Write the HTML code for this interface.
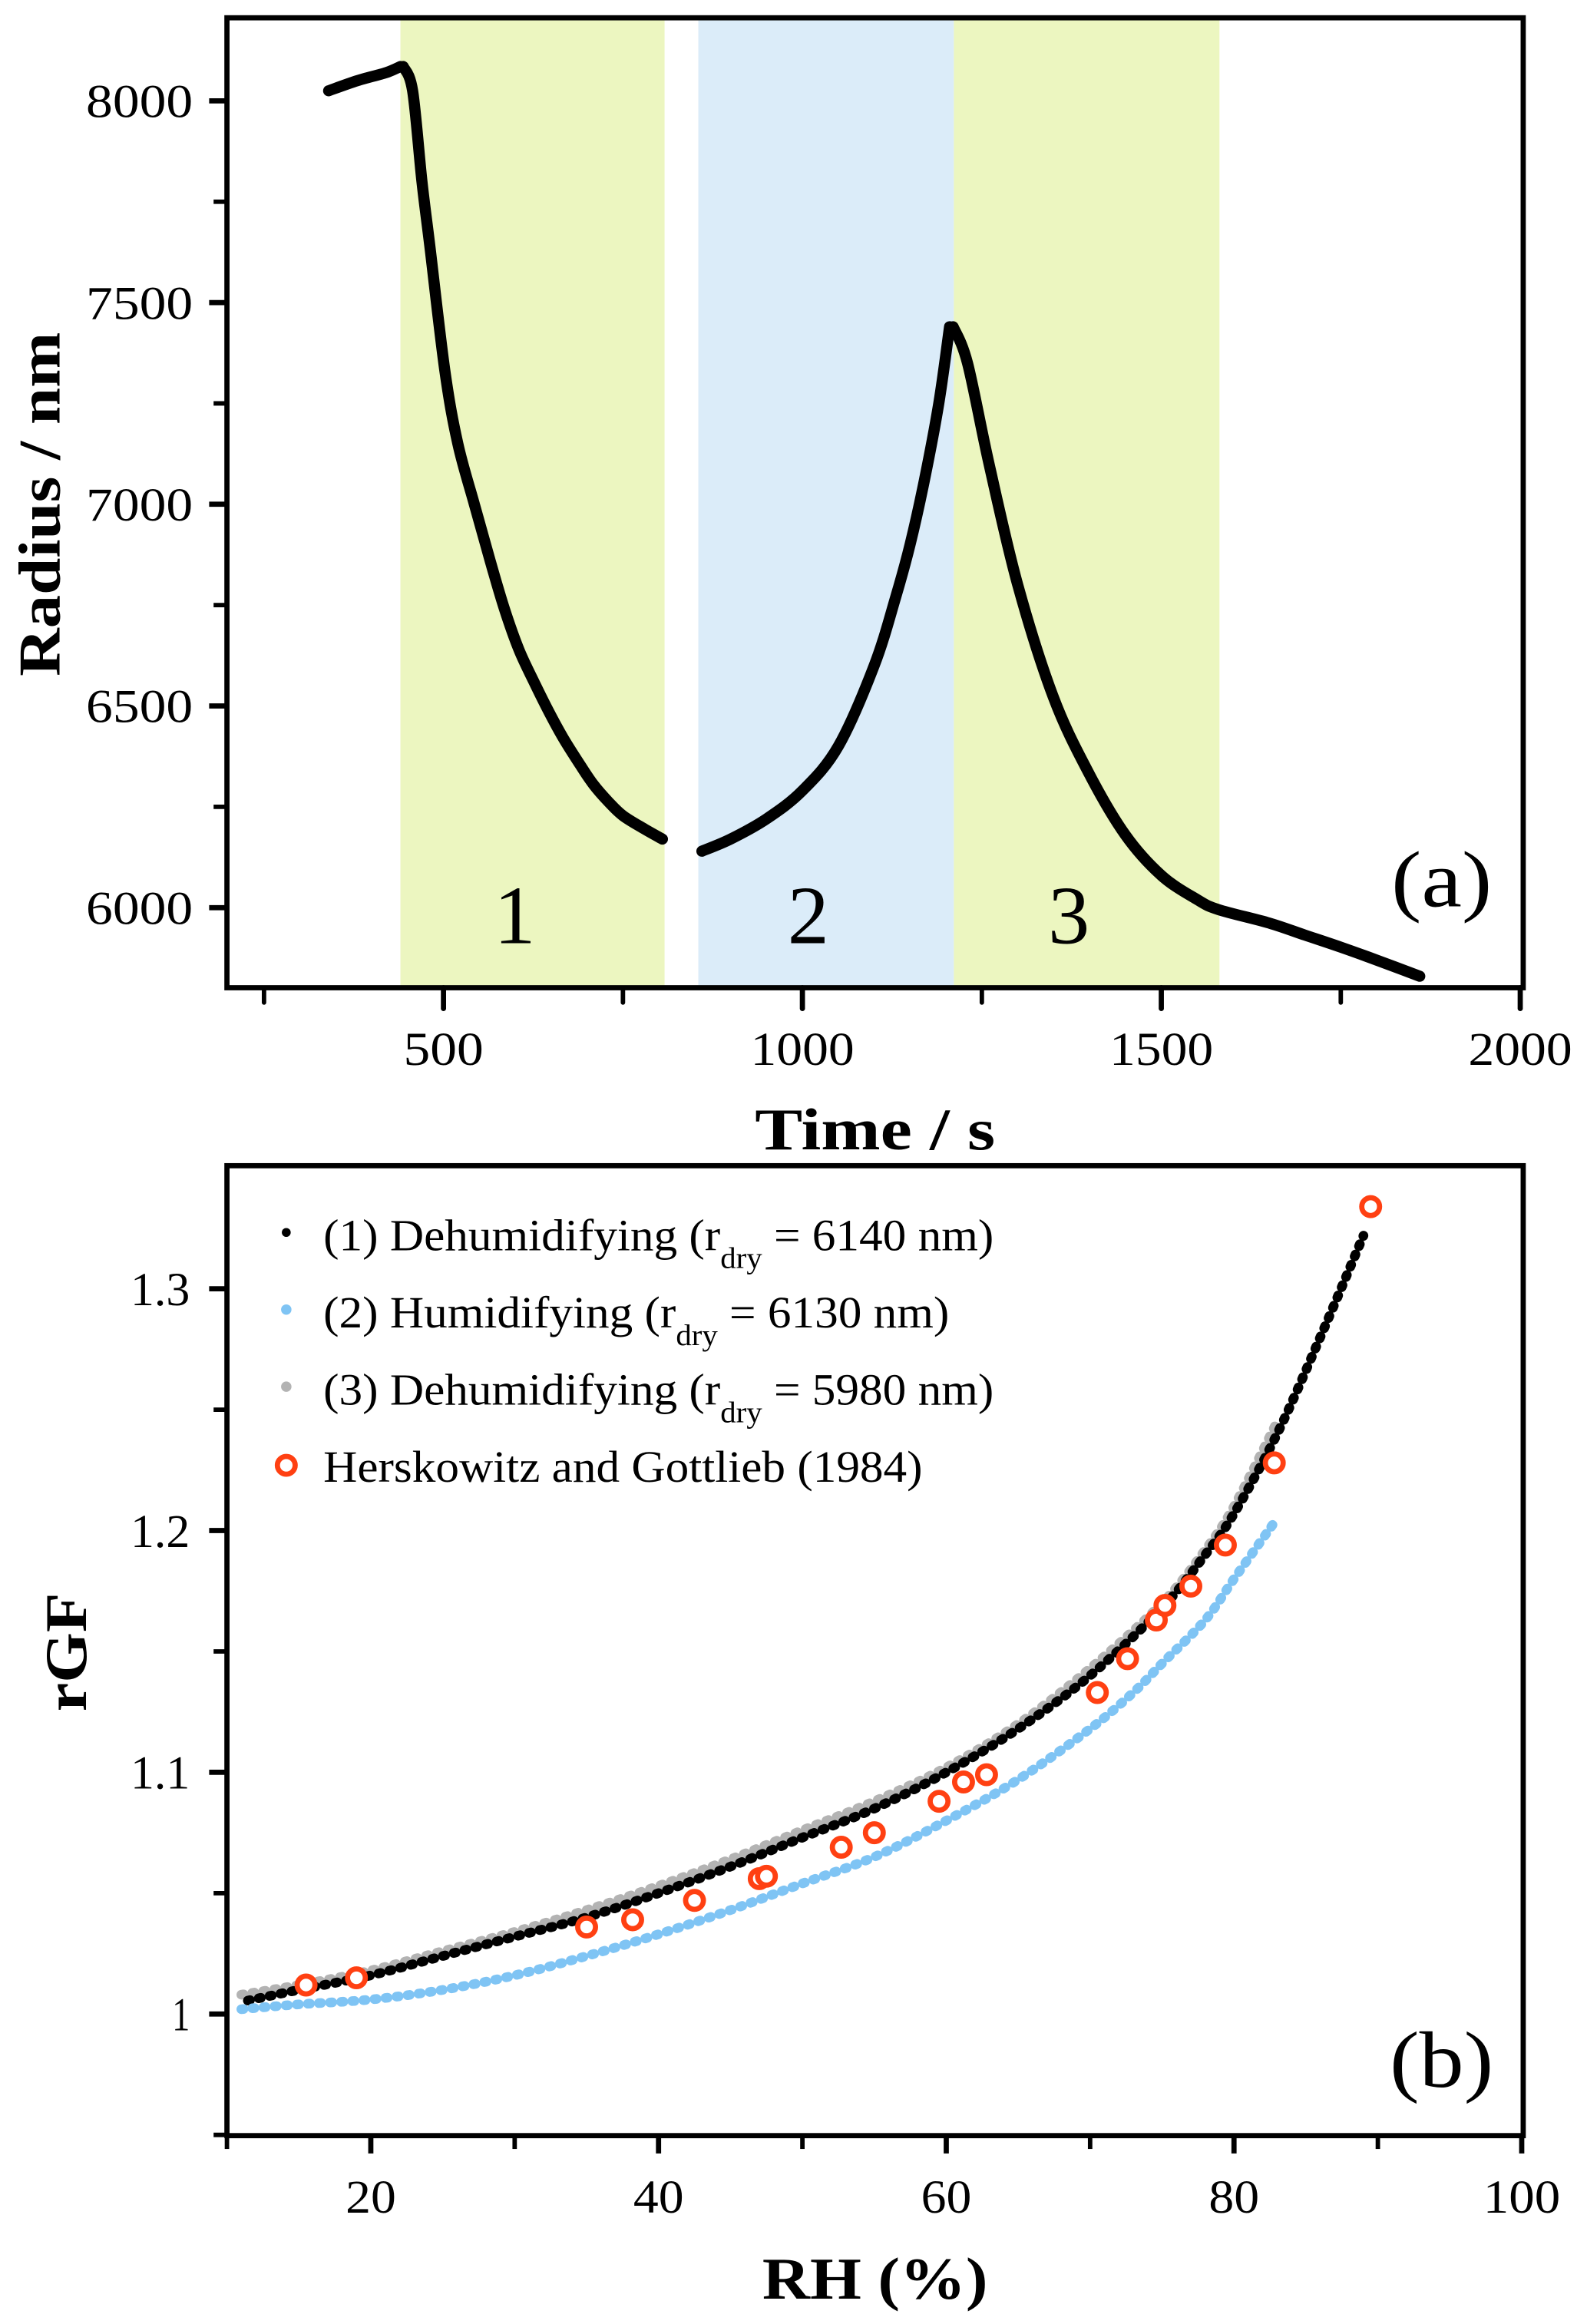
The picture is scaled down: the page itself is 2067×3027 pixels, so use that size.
<!DOCTYPE html>
<html><head><meta charset="utf-8"><style>
html,body{margin:0;padding:0;background:#fff}
svg{display:block}
text{font-family:"Liberation Serif","Times New Roman",serif;fill:#000}
</style></head><body>
<svg id="fig" width="2067" height="3027" viewBox="0 0 1070 1567" xmlns="http://www.w3.org/2000/svg">
<g id="pa"></g>
<g id="pb"></g>
</svg>
<script>
// ---------- Panel (a) data ----------
const aXTicks = [500, 1000, 1500, 2000];
const aXMinor = [250, 750, 1250, 1750];
const aYTicks = [6000, 6500, 7000, 7500, 8000];
const aYMinor = [6250, 6750, 7250, 7750];
const bandStart = [440, 855, 1211];
const bandEnd = [808, 1211, 1581];
const bandColor = ["#ecf6c0", "#dbecf9", "#ecf6c0"];
const bandLabel = ["1", "2", "3"];
const seg0T = [340, 380, 420, 440];
const seg0R = [8025, 8050, 8070, 8085];
const seg1T = [444, 457, 470, 481, 502, 520, 543, 565, 585, 605, 626, 647, 667, 690, 709, 730, 750, 780, 805];
const seg1R = [8085, 8025, 7800, 7640, 7330, 7150, 7000, 6860, 6740, 6640, 6560, 6485, 6420, 6355, 6305, 6262, 6228, 6195, 6170];
const seg2T = [860, 900, 950, 1000, 1050, 1100, 1130, 1150, 1170, 1190, 1205];
const seg2R = [6140, 6170, 6220, 6290, 6400, 6600, 6770, 6900, 7060, 7250, 7440];
const seg3T = [1210, 1230, 1260, 1300, 1350, 1400, 1450, 1500, 1550, 1580, 1650, 1700, 1750, 1800, 1860];
const seg3R = [7440, 7350, 7100, 6800, 6520, 6330, 6180, 6080, 6020, 5995, 5962, 5932, 5902, 5870, 5830];

// ---------- Panel (b) data ----------
const bXTicks = [20, 40, 60, 80, 100];
const bXMinor = [10, 30, 50, 70, 90];
const bYTicks = [1, 1.1, 1.2, 1.3];
const bYTickLabels = ["1", "1.1", "1.2", "1.3"];
const bYMinor = [0.95, 1.05, 1.15, 1.25];
const s1RH = [11, 15, 20, 25, 30, 35, 40, 45, 50, 55, 60, 65, 70, 75, 78, 80, 83, 86, 89];
const s1GF = [1.005, 1.01, 1.016, 1.024, 1.032, 1.04, 1.05, 1.061, 1.073, 1.085, 1.1, 1.118, 1.14, 1.168, 1.19, 1.207, 1.24, 1.28, 1.322];
const s2RH = [11, 15, 20, 25, 30, 35, 40, 45, 50, 55, 60, 65, 70, 73, 75, 78, 80, 83];
const s2GF = [1.002, 1.004, 1.006, 1.01, 1.016, 1.024, 1.033, 1.043, 1.054, 1.065, 1.08, 1.097, 1.118, 1.133, 1.145, 1.163, 1.18, 1.205];
const s3RH = [11, 15, 20, 25, 30, 35, 40, 45, 50, 55, 60, 65, 70, 75, 78, 80, 83];
const s3GF = [1.008, 1.012, 1.018, 1.026, 1.034, 1.043, 1.053, 1.064, 1.076, 1.088, 1.102, 1.12, 1.143, 1.17, 1.192, 1.21, 1.245];
const hgRH = [15.5, 19, 35, 38.2, 42.5, 47, 47.5, 52.7, 55, 59.5, 61.2, 62.8, 70.5, 72.6, 74.6, 75.2, 77, 79.4, 82.8, 89.5];
const hgGF = [1.012, 1.015, 1.036, 1.039, 1.047, 1.056, 1.057, 1.069, 1.075, 1.088, 1.096, 1.099, 1.133, 1.147, 1.163, 1.169, 1.177, 1.194, 1.228, 1.334];

const NS = "http://www.w3.org/2000/svg";
function mk(parent, tag, attrs, txt) {
  const e = document.createElementNS(NS, tag);
  for (const k in attrs) e.setAttribute(k, attrs[k]);
  if (txt !== undefined) e.textContent = txt;
  parent.appendChild(e);
  return e;
}
// smooth path through screen points (Catmull-Rom)
function smooth(P) {
  let d = 'M' + P[0][0] + ',' + P[0][1];
  for (let i = 0; i < P.length - 1; i++) {
    const p0 = P[Math.max(0, i - 1)], p1 = P[i], p2 = P[i + 1], p3 = P[Math.min(P.length - 1, i + 2)];
    const c1 = [p1[0] + (p2[0] - p0[0]) / 6, p1[1] + (p2[1] - p0[1]) / 6];
    const c2 = [p2[0] - (p3[0] - p1[0]) / 6, p2[1] - (p3[1] - p1[1]) / 6];
    d += ' C' + c1[0] + ',' + c1[1] + ' ' + c2[0] + ',' + c2[1] + ' ' + p2[0] + ',' + p2[1];
  }
  return d;
}

// ---------- Panel (a) ----------
const pa = document.getElementById('pa');
const aL = 153, aR = 1027, aT = 12, aB = 666;
const ax = t => 57 + t * 0.484;
const ay = r => 612 - (r - 6000) * 0.272;
for (let i = 0; i < bandStart.length; i++) {
  const b = mk(pa, 'rect', {x: ax(bandStart[i]), y: aT, width: ax(bandEnd[i]) - ax(bandStart[i]), height: aB - aT, fill: bandColor[i]});
  
  
  const l = mk(pa, 'text', {x: (ax(bandStart[i]) + ax(bandEnd[i])) / 2 - 12, y: 636, 'font-size': 56, 'text-anchor': 'middle'}, bandLabel[i]);
  
  
}
[[seg0T, seg0R], [seg1T, seg1R], [seg2T, seg2R], [seg3T, seg3R]].forEach((s, i) => {
  const P = s[0].map((t, j) => [ax(t), ay(s[1][j])]);
  const p = mk(pa, 'path', {d: smooth(P), fill: 'none', stroke: '#000', 'stroke-width': 7.5, 'stroke-linecap': 'round', 'stroke-linejoin': 'round'});
  
  
});
const fa = mk(pa, 'rect', {x: aL, y: aT, width: aR - aL, height: aB - aT, fill: 'none', stroke: '#000', 'stroke-width': 3.5});


aXTicks.forEach(t => {
  mk(pa, 'line', {x1: ax(t), x2: ax(t), y1: aB, y2: aB + 14, stroke: '#000', 'stroke-width': 3.5, 'stroke-linecap': 'round'});
  const l = mk(pa, 'text', {x: ax(t), y: 718, 'font-size': 32, 'text-anchor': 'middle', textLength: t >= 1000 ? 70 : 54, lengthAdjust: 'spacingAndGlyphs'}, String(t));
  
  
});
aXMinor.forEach(t => mk(pa, 'line', {x1: ax(t), x2: ax(t), y1: aB, y2: aB + 10, stroke: '#000', 'stroke-width': 3, 'stroke-linecap': 'round'}));
aYTicks.forEach(r => {
  mk(pa, 'line', {x1: aL - 12, x2: aL, y1: ay(r), y2: ay(r), stroke: '#000', 'stroke-width': 3.5});
  const l = mk(pa, 'text', {x: 130, y: ay(r) + 11, 'font-size': 32, 'text-anchor': 'end', textLength: 72, lengthAdjust: 'spacingAndGlyphs'}, String(r));
  
  
});
aYMinor.forEach(r => mk(pa, 'line', {x1: aL - 9, x2: aL, y1: ay(r), y2: ay(r), stroke: '#000', 'stroke-width': 3}));
let t1 = mk(pa, 'text', {x: 590, y: 775, 'font-size': 40, 'font-weight': 'bold', 'text-anchor': 'middle', textLength: 162, lengthAdjust: 'spacingAndGlyphs'}, 'Time  / s');
 
let t2 = mk(pa, 'text', {x: 0, y: 0, 'font-size': 40, 'font-weight': 'bold', 'text-anchor': 'middle', transform: 'translate(40,340) rotate(-90)', textLength: 232, lengthAdjust: 'spacingAndGlyphs'}, 'Radius / nm');
 
let t3 = mk(pa, 'text', {x: 972, y: 611, 'font-size': 54, 'text-anchor': 'middle', textLength: 68, lengthAdjust: 'spacingAndGlyphs'}, '(a)');
 

// ---------- Panel (b) ----------
const pb = document.getElementById('pb');
const bL = 153, bR = 1027, bT = 786, bB = 1440;
const bx = v => 56 + v * 9.7;
const by = g => 1358 - (g - 1) * 1630;
const series = [[s3RH, s3GF, '#b3b3b3', 'series-dehumidifying-3', 0], [s1RH, s1GF, '#000', 'series-dehumidifying-1', 3], [s2RH, s2GF, '#7fc4f4', 'series-humidifying-2', 0]];
series.forEach(s => {
  const P = s[0].map((v, j) => [bx(v), by(s[1][j])]);
  const p = mk(pb, 'path', {d: smooth(P), fill: 'none', stroke: s[2], 'stroke-width': 6.5, 'stroke-linecap': 'round', 'stroke-dasharray': '1.5 6', 'stroke-dashoffset': s[4]});
  
  
});
hgRH.forEach((v, j) => {
  const c = mk(pb, 'circle', {cx: bx(v), cy: by(hgGF[j]), r: 6, fill: '#fff', stroke: '#ff4012', 'stroke-width': 3.5});
  
  
});
const fb = mk(pb, 'rect', {x: bL, y: bT, width: bR - bL, height: bB - bT, fill: 'none', stroke: '#000', 'stroke-width': 3.5});


bXTicks.forEach(v => {
  mk(pb, 'line', {x1: bx(v), x2: bx(v), y1: bB, y2: bB + 12, stroke: '#000', 'stroke-width': 3.5});
  const l = mk(pb, 'text', {x: bx(v), y: 1492, 'font-size': 32, 'text-anchor': 'middle', textLength: v === 100 ? 52 : 34, lengthAdjust: 'spacingAndGlyphs'}, String(v));
  
  
});
bXMinor.forEach(v => mk(pb, 'line', {x1: bx(v), x2: bx(v), y1: bB, y2: bB + 9, stroke: '#000', 'stroke-width': 3}));
const yLen = [12, 40, 40, 40];
bYTicks.forEach((g, i) => {
  mk(pb, 'line', {x1: bL - 12, x2: bL, y1: by(g), y2: by(g), stroke: '#000', 'stroke-width': 3.5});
  const l = mk(pb, 'text', {x: 128, y: by(g) + 11, 'font-size': 32, 'text-anchor': 'end', textLength: yLen[i], lengthAdjust: 'spacingAndGlyphs'}, bYTickLabels[i]);
  
  
});
bYMinor.forEach(g => mk(pb, 'line', {x1: bL - 9, x2: bL, y1: by(g), y2: by(g), stroke: '#000', 'stroke-width': 3}));
let u1 = mk(pb, 'text', {x: 590, y: 1550, 'font-size': 40, 'font-weight': 'bold', 'text-anchor': 'middle', textLength: 152, lengthAdjust: 'spacingAndGlyphs'}, 'RH (%)');
 
let u2 = mk(pb, 'text', {x: 0, y: 0, 'font-size': 40, 'font-weight': 'bold', 'text-anchor': 'middle', transform: 'translate(58,1114) rotate(-90)', textLength: 80, lengthAdjust: 'spacingAndGlyphs'}, 'rGF');
 
let u3 = mk(pb, 'text', {x: 972, y: 1407, 'font-size': 54, 'text-anchor': 'middle', textLength: 70, lengthAdjust: 'spacingAndGlyphs'}, '(b)');
 

// legend
const legend = mk(pb, 'g', {});


const legMain = ["(1) Dehumidifying (r", "(2) Humidifying (r", "(3) Dehumidifying (r"];
const legTail = [" = 6140 nm)", " = 6130 nm)", " = 5980 nm)"];
const legLen = [452, 422, 452];
const legCol = ['#000', '#7fc4f4', '#b3b3b3'];
const legY = [833, 885, 937];
for (let i = 0; i < 3; i++) {
  const d = mk(legend, 'circle', {cx: 193, cy: legY[i] - 2, r: i === 0 ? 3 : 3.5, fill: legCol[i]});
  
  
  const t = mk(legend, 'text', {x: 218, y: legY[i] + 10, 'font-size': 30, textLength: legLen[i], lengthAdjust: 'spacingAndGlyphs'});
  
  
  mk(t, 'tspan', {}, legMain[i]);
  mk(t, 'tspan', {dy: 12, 'font-size': 20}, 'dry');
  mk(t, 'tspan', {dy: -12}, legTail[i]);
}
const lc = mk(legend, 'circle', {cx: 193, cy: 988, r: 6, fill: '#fff', stroke: '#ff4012', 'stroke-width': 3.5});


const lt = mk(legend, 'text', {x: 218, y: 999, 'font-size': 30, textLength: 404, lengthAdjust: 'spacingAndGlyphs'}, 'Herskowitz and Gottlieb (1984)');


</script>
</body></html>
